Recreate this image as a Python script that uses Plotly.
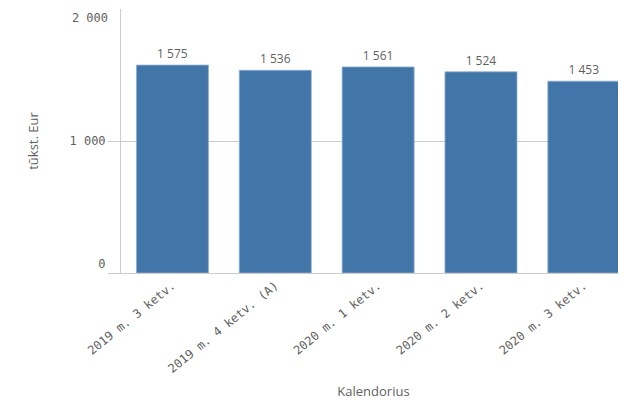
import plotly.graph_objects as go

# Quarterly values, thousand EUR
quarters = ["2019 m. 3 ketv.", "2019 m. 4 ketv. (A)", "2020 m. 1 ketv.",
            "2020 m. 2 ketv.", "2020 m. 3 ketv."]
values = [1575, 1536, 1561, 1524, 1453]
y_range = [0, 2000]
y_tick_mid = [1000]
y_tick_top = [2000]
y_tick_bottom = [0]

bar_color = "#4275a8"
text_color = "#5f5f5f"
line_color = "#cccccc"
mono = "DejaVu Sans Mono"
sans = "Open Sans"


def fmt(v):
    return f"{v:,}".replace(",", " ")


fig = go.Figure(go.Bar(
    x=quarters,
    y=values,
    text=[fmt(v) for v in values],
    textposition="outside",
    textfont=dict(family=sans, size=12, color=text_color),
    marker=dict(color=bar_color, line=dict(color="#8fb0d0", width=0.8)),
    cliponaxis=False,
))

# invisible copies so the overlay axes (end labels) get drawn
for ax in ["y2", "y3"]:
    fig.add_trace(go.Scatter(x=quarters, y=values, yaxis=ax, mode="markers",
                             marker=dict(opacity=0), hoverinfo="skip"))

# the page body adds an 8px offset, so the figure is 8px smaller
W, H = 618, 405
L, R, T, B = 113, 0, 1, 140

tick_font = dict(family=mono, size=12, color=text_color)

fig.update_layout(
    width=W, height=H,
    margin=dict(l=L, r=R, t=T, b=B, autoexpand=False),
    plot_bgcolor="white",
    paper_bgcolor="white",
    bargap=0.3,
    showlegend=False,
    xaxis=dict(
        range=[-0.5, 4.41],
        tickangle=-39,
        automargin=False,
        tickfont=tick_font,
        showline=True, linecolor=line_color, linewidth=1,
        showgrid=False, ticks="",
        title=dict(text="Kalendorius", standoff=12,
                   font=dict(family=sans, size=13, color=text_color)),
    ),
    yaxis=dict(
        range=y_range,
        tickvals=y_tick_mid,
        ticktext=[fmt(v) for v in y_tick_mid],
        automargin=False,
        tickfont=tick_font,
        showline=True, linecolor=line_color, linewidth=1,
        showgrid=True, gridcolor=line_color, gridwidth=1,
        zeroline=False,
        ticks="outside", ticklen=12, tickcolor=line_color,
        title=dict(text="tūkst. Eur", standoff=27,
                   font=dict(family=sans, size=13, color=text_color)),
    ),
    # end labels are nudged inside the axis span, as in the original
    yaxis2=dict(
        overlaying="y", anchor="x", side="left",
        range=y_range,
        tickvals=y_tick_top,
        ticktext=[fmt(v) for v in y_tick_top],
        ticklabelposition="outside bottom",
        ticklabelstandoff=12,
        automargin=False,
        tickfont=tick_font,
        showline=False, showgrid=False, zeroline=False,
        ticks="",
    ),
    yaxis3=dict(
        overlaying="y", anchor="x", side="left",
        range=y_range,
        tickvals=y_tick_bottom,
        ticktext=[fmt(v) for v in y_tick_bottom],
        ticklabelposition="outside top",
        ticklabelstandoff=12,
        automargin=False,
        tickfont=tick_font,
        showline=False, showgrid=False, zeroline=False,
        ticks="outside", ticklen=12, tickcolor=line_color,
    ),
)

fig.write_html("out.html")
